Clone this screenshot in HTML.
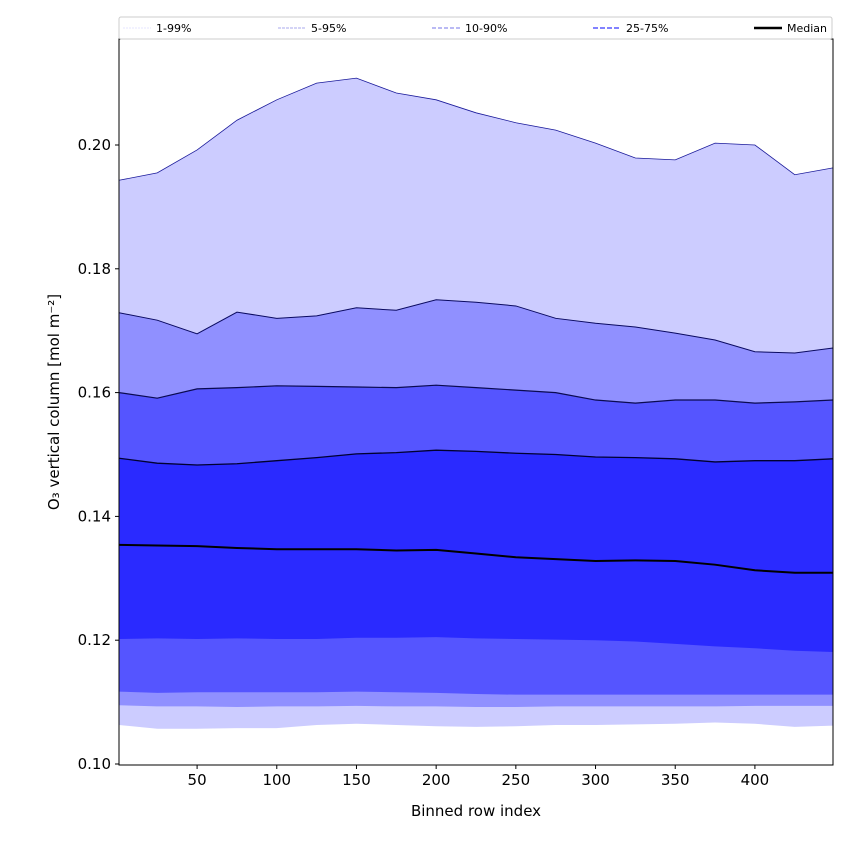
<!DOCTYPE html>
<html><head><meta charset="utf-8"><style>
body{margin:0;background:#fff;font-family:"Liberation Sans","DejaVu Sans",sans-serif;}
svg text{font-family:"DejaVu Sans","Liberation Sans",sans-serif;}
</style></head><body>
<svg id="chart" width="850" height="850" xmlns="http://www.w3.org/2000/svg"></svg>
<script>
const xs=[1,25,50,75,100,125,150,175,200,225,250,275,300,325,350,375,400,425,449];
const p99=[0.1943,0.1955,0.1992,0.204,0.2073,0.210,0.2108,0.2084,0.2073,0.2052,0.2036,0.2024,0.2003,0.1979,0.1976,0.2003,0.200,0.1952,0.1963];
const p95=[0.1729,0.1717,0.1695,0.173,0.172,0.1724,0.1737,0.1733,0.175,0.1746,0.174,0.172,0.1712,0.1706,0.1696,0.1685,0.1666,0.1664,0.1672];
const p90=[0.160,0.1591,0.1606,0.1608,0.1611,0.161,0.1609,0.1608,0.1612,0.1608,0.1604,0.160,0.1588,0.1583,0.1588,0.1588,0.1583,0.1585,0.1588];
const p75=[0.1494,0.1486,0.1483,0.1485,0.149,0.1495,0.1501,0.1503,0.1507,0.1505,0.1502,0.150,0.1496,0.1495,0.1493,0.1488,0.149,0.149,0.1493];
const median=[0.1354,0.1353,0.1352,0.1349,0.1347,0.1347,0.1347,0.1345,0.1346,0.1340,0.1334,0.1331,0.1328,0.1329,0.1328,0.1322,0.1313,0.1309,0.1309];
const p25=[0.1202,0.1203,0.1202,0.1203,0.1202,0.1202,0.1204,0.1204,0.1205,0.1203,0.1202,0.1201,0.1200,0.1198,0.1194,0.119,0.1187,0.1183,0.1181];
const p10=[0.1117,0.1115,0.1116,0.1116,0.1116,0.1116,0.1117,0.1116,0.1115,0.1113,0.1112,0.1112,0.1112,0.1112,0.1112,0.1112,0.1112,0.1112,0.1112];
const p5=[0.1095,0.1093,0.1093,0.1092,0.1093,0.1093,0.1094,0.1093,0.1093,0.1092,0.1092,0.1093,0.1093,0.1093,0.1093,0.1093,0.1094,0.1094,0.1094];
const p1=[0.1063,0.1057,0.1057,0.1058,0.1058,0.1063,0.1065,0.1063,0.1061,0.1060,0.1061,0.1063,0.1063,0.1064,0.1065,0.1067,0.1065,0.1060,0.1062];
const xTicks=[50,100,150,200,250,300,350,400];
const yTicks=[0.10,0.12,0.14,0.16,0.18,0.20];

const L=119,R=833,T=39,B=765;
const xMin=1,xMax=449;
function X(v){return L+(v-xMin)/(xMax-xMin)*(R-L);}
function Y(v){return 764-(v-0.10)*6190;}
const svg=document.getElementById('chart');
const NS='http://www.w3.org/2000/svg';
function el(t,a,txt){const e=document.createElementNS(NS,t);for(const k in a)e.setAttribute(k,a[k]);if(txt!==undefined)e.textContent=txt;svg.appendChild(e);return e;}

const clip=document.createElementNS(NS,'clipPath');clip.setAttribute('id','pc');
const cr=document.createElementNS(NS,'rect');cr.setAttribute('x',L);cr.setAttribute('y',T);cr.setAttribute('width',R-L);cr.setAttribute('height',B-T);
clip.appendChild(cr);svg.appendChild(clip);

function band(lo,hi,color,name){
  let d='M'+xs.map((x,i)=>X(x)+','+Y(hi[i])).join(' L');
  d+=' L'+xs.map((x,i)=>[X(x),Y(lo[i])]).reverse().map(p=>p.join(',')).join(' L')+' Z';
  const p=el('path',{d:d,fill:color,'clip-path':'url(#pc)'});
  
  
}
function line(vals,color,w,name){
  const p=el('polyline',{points:xs.map((x,i)=>X(x)+','+Y(vals[i])).join(' '),fill:'none',stroke:color,'stroke-width':w,'clip-path':'url(#pc)'});
  
  
}
band(p1,p99,'#ccccff','band-1-99');
band(p5,p95,'#9090ff','band-5-95');
band(p10,p90,'#5555ff','band-10-90');
band(p25,p75,'#2a2aff','band-25-75');
line(p99,'#1a1a9a',0.8,'line-p99');
line(p95,'#0a0a60',1,'line-p95');
line(p90,'#0a0a50',1.2,'line-p90');
line(p75,'#000030',1.3,'line-p75');
line(median,'#000',2,'median-line');

const frame=el('rect',{x:L,y:T,width:R-L,height:B-T,fill:'none',stroke:'#000','stroke-width':1});



xTicks.forEach(t=>{
  const tk=el('line',{x1:X(t),x2:X(t),y1:B,y2:B+4,stroke:'#000'});
  
  
  const lb=el('text',{x:X(t),y:B+20,'text-anchor':'middle','font-size':15},String(t));
  
  
});
yTicks.forEach(t=>{
  const tk=el('line',{x1:L-4,x2:L,y1:Y(t),y2:Y(t),stroke:'#000'});
  
  
  const lb=el('text',{x:L-8,y:Y(t)+5,'text-anchor':'end','font-size':15},t.toFixed(2));
  
  
});
const xt=el('text',{x:(L+R)/2,y:816,'text-anchor':'middle','font-size':15},'Binned row index');


const yt=el('text',{x:0,y:0,'text-anchor':'middle','font-size':15,transform:'translate(59,402) rotate(-90)'},'O₃ vertical column [mol m⁻²]');



const lg=el('rect',{x:119,y:17,width:713,height:22,fill:'#fff',stroke:'#ccc',rx:2});


const legItems=[['1-99%',123,'#ddddff',0.8,'2,1'],['5-95%',278,'#aaaaee',1,'3,1'],['10-90%',432,'#9090ee',1.3,'4,2'],['25-75%',593,'#7070ff',1.8,'5,2'],['Median',754,'#000',2.5,'']];
legItems.forEach(it=>{
  const ln=el('line',{x1:it[1],x2:it[1]+28,y1:28,y2:28,stroke:it[2],'stroke-width':it[3],'stroke-dasharray':it[4]});
  
  
  const tx=el('text',{x:it[1]+33,y:32,'font-size':11},it[0]);
  
  
});
</script>
</body></html>
